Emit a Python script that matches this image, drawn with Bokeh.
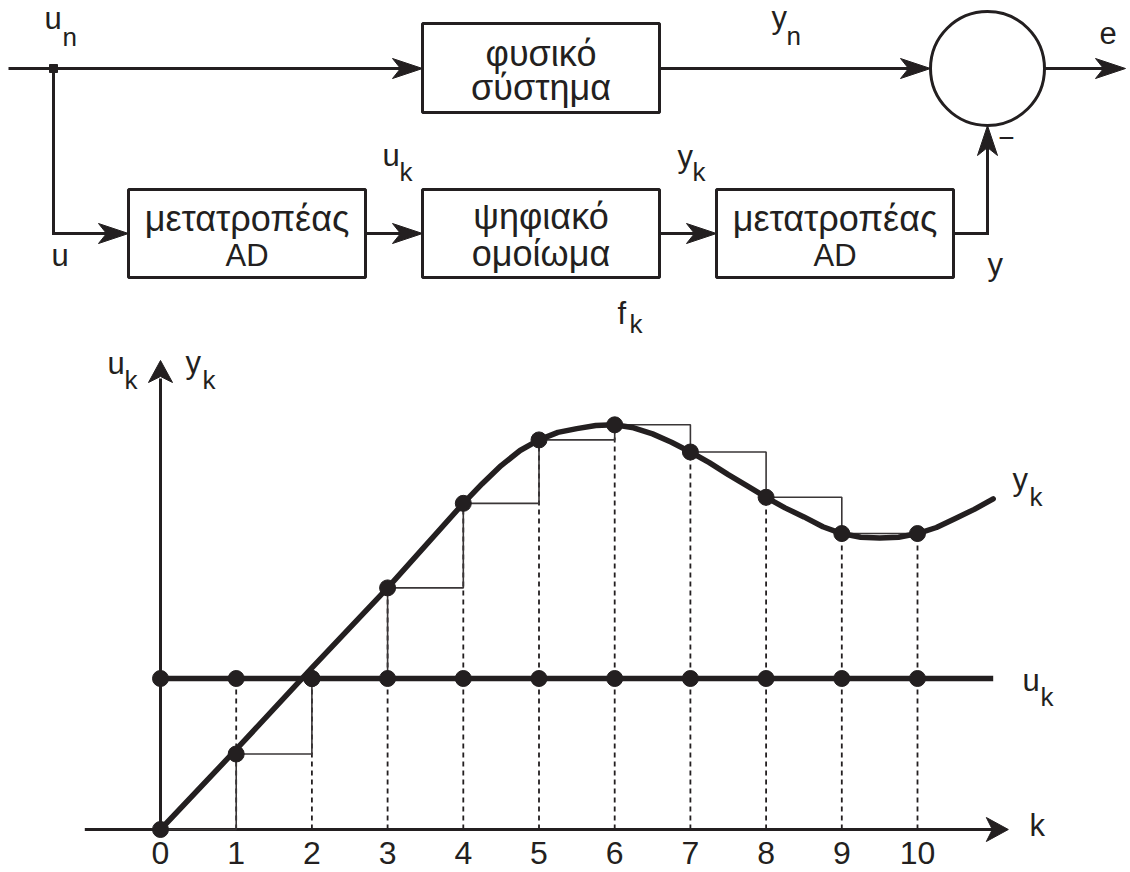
import numpy as np
from bokeh.plotting import figure
from bokeh.models import Range1d
from bokeh.core.properties import value
from bokeh.embed import file_html
from bokeh.resources import INLINE

INK = "#231f20"
FONT = "Liberation Sans"

# ---------------- data ----------------
k_samples = [0, 1, 2, 3, 4, 5, 6, 7, 8, 9, 10]
tick_labels = ["0", "1", "2", "3", "4", "5", "6", "7", "8", "9", "10"]
u_samples = [1.0, 1.0, 1.0, 1.0, 1.0, 1.0, 1.0, 1.0, 1.0, 1.0, 1.0]
y_samples = [0.0, 0.50, 1.00, 1.60, 2.16, 2.58, 2.68, 2.50, 2.20, 1.96, 1.96]
curve_k = [0, 1, 2, 3, 4, 4.25, 4.5, 4.75, 5, 5.25, 5.5, 5.75, 6, 6.25, 6.5, 6.75,
           7, 7.25, 7.5, 7.75, 8, 8.25, 8.5, 8.75, 9, 9.25, 9.5, 9.75, 10, 10.25,
           10.5, 10.75, 11.0]
curve_y = [0.0, 0.53, 1.07, 1.60, 2.16, 2.29, 2.41, 2.51, 2.58, 2.63, 2.655, 2.675,
           2.68, 2.66, 2.62, 2.565, 2.50, 2.43, 2.35, 2.275, 2.20, 2.13, 2.07, 2.005,
           1.96, 1.935, 1.93, 1.935, 1.96, 2.00, 2.06, 2.12, 2.19]
u_line_k = [0.0, 11.0]
u_line_y = [1.0, 1.0]

# ---------------- page / scale geometry ----------------
W, H = 1130, 872
K0_PX, K_STEP_PX = 160.0, 75.7      # page x of k=0, px per k
V0_PX, V_STEP_PX = 829.0, 151.0     # page y of value 0, px per unit


def kx(k):
    return K0_PX + K_STEP_PX * k


def vy(v):
    return V0_PX - V_STEP_PX * v


p = figure(width=W, height=H,
           x_range=Range1d(0, W), y_range=Range1d(H, 0),
           x_axis_type=None, y_axis_type=None, toolbar_location=None,
           output_backend="svg", min_border=0)
p.outline_line_color = None
p.background_fill_color = "white"
p.border_fill_color = "white"
p.extra_x_ranges = {"k": Range1d(-K0_PX / K_STEP_PX, (W - K0_PX) / K_STEP_PX)}
p.extra_y_ranges = {"v": Range1d((V0_PX - H) / V_STEP_PX, V0_PX / V_STEP_PX)}
KV = dict(x_range_name="k", y_range_name="v")

BASE_SHIFT = 0.33  # empirical correction of the alphabetic baseline (in em)


def txt(xs, ys, texts, size, align="left", baseline="alphabetic", **kw):
    if baseline == "alphabetic":
        ys = [y - BASE_SHIFT * size for y in ys]
    p.text(x=xs, y=ys, text=texts, text_font=value(FONT), text_font_size=f"{size}px",
           text_color=INK, text_align=align, text_baseline=baseline, **kw)


def head(tx, ty, dx, dy, L=30, hw=10, notch=8):
    bx, by = tx - L * dx, ty - L * dy
    nx, ny = -dy, dx
    xs = [tx, bx + hw * nx, tx - (L - notch) * dx, bx - hw * nx]
    ys = [ty, by + hw * ny, ty - (L - notch) * dy, by - hw * ny]
    return xs, ys


# ---------------- block diagram ----------------
ROW1, ROW2 = 68, 233
boxes_l = [422, 128, 422, 716]
boxes_r = [659, 365, 659, 953]
boxes_t = [23, 189, 189, 189]
boxes_b = [112, 277, 277, 277]
p.quad(left=boxes_l, right=boxes_r, top=boxes_t, bottom=boxes_b,
       fill_color="white", line_color=INK, line_width=3)

CX, CY, CR = 987, 68, 57
p.circle(x=[CX], y=[CY], radius=CR, fill_color=None, line_color=INK, line_width=3)

conn_x = [[8, 410], [659, 918], [CX + CR, 1112], [53, 53, 116],
          [365, 410], [659, 704], [953, CX, CX]]
conn_y = [[ROW1, ROW1], [ROW1, ROW1], [ROW1, ROW1], [ROW1, ROW2, ROW2],
          [ROW2, ROW2], [ROW2, ROW2], [ROW2, ROW2, CY + CR + 12]]
p.multi_line(xs=conn_x, ys=conn_y, line_color=INK, line_width=3, line_join="miter")
p.scatter(x=[53], y=[ROW1], marker="square", size=8, fill_color=INK, line_color=INK)

heads = [head(422, ROW1, 1, 0), head(930, ROW1, 1, 0), head(1125, ROW1, 1, 0),
         head(128, ROW2, 1, 0), head(422, ROW2, 1, 0), head(716, ROW2, 1, 0),
         head(CX, CY + CR, 0, -1)]
p.patches(xs=[h[0] for h in heads], ys=[h[1] for h in heads],
          fill_color=INK, line_color=INK, line_width=1)

# box texts
txt([540.5, 540.5, 246.5, 540.5, 540.5, 834.5],
    [65, 99, 230, 228, 265, 230],
    ["φυσικό", "σύστημα", "μετατροπέας", "ψηφιακό", "ομοίωμα", "μετατροπέας"],
    36, align="center")
txt([246.5, 834.5], [265, 265], ["AD", "AD"], 31, align="center")

# signal labels
MAIN_FS, SUB_FS = 31, 26
txt([44, 771, 1099, 51, 987, 382, 677, 617],
    [28, 27, 43, 265, 274, 165, 166, 323],
    ["u", "y", "e", "u", "y", "u", "y", "f"], MAIN_FS)
txt([62, 786, 399, 692, 629], [45, 44, 180, 180, 332],
    ["n", "n", "k", "k", "k"], SUB_FS)
txt([1006], [137], ["−"], 28, align="center", baseline="middle")

# ---------------- sampled-signal plot ----------------
# axes
AX_K0, AX_K1, AX_VTOP = -1.0, 11.2, 3.106
p.line(x=[AX_K0, AX_K1 - 0.2], y=[0, 0], line_color=INK, line_width=3, **KV)
p.line(x=[0, 0], y=[0, AX_VTOP - 0.12], line_color=INK, line_width=3, **KV)
ax_heads = [head(kx(AX_K1), vy(0), 1, 0, L=22, hw=12, notch=6),
            head(kx(0), vy(AX_VTOP), 0, -1, L=22, hw=12, notch=6)]
p.patches(xs=[h[0] for h in ax_heads], ys=[h[1] for h in ax_heads],
          fill_color=INK, line_color=INK, line_width=1)

# dashed drop lines
tops = np.maximum(np.array(u_samples), np.array(y_samples))
p.segment(x0=k_samples[1:], y0=[0] * 10, x1=k_samples[1:], y1=list(tops[1:]),
          line_color=INK, line_width=1.8, line_dash="5 4", **KV)

# zero-order-hold staircase
p.step(x=k_samples, y=y_samples, mode="after", line_color="#3a3637", line_width=1.6, **KV)

# u_k and y_k signals
p.line(x=u_line_k, y=u_line_y, line_color=INK, line_width=5.5, **KV)
p.line(x=curve_k, y=curve_y, line_color=INK, line_width=5.5, line_join="round",
       line_cap="round", **KV)
p.scatter(x=k_samples, y=u_samples, size=16, fill_color=INK, line_color=INK, **KV)
p.scatter(x=k_samples, y=y_samples, size=16, fill_color=INK, line_color=INK, **KV)

# tick labels
TICK_FS = 32
p.text(x=k_samples, y=863 - BASE_SHIFT * TICK_FS, text=tick_labels, text_font=value(FONT),
       text_font_size=f"{TICK_FS}px", text_color=INK, text_align="center",
       text_baseline="alphabetic", x_range_name="k")

# plot labels
txt([107, 185, 1012, 1022, 1029], [373, 372, 489, 690, 835],
    ["u", "y", "y", "u", "k"], MAIN_FS)
txt([124, 202, 1029, 1040], [388, 388, 505, 705], ["k", "k", "k", "k"], SUB_FS)

open("out.html", "w").write(file_html(p, INLINE))
